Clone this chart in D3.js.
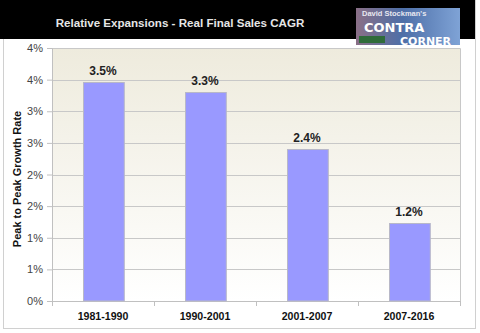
<!DOCTYPE html>
<html>
<head>
<meta charset="utf-8">
<script src="https://cdn.jsdelivr.net/npm/d3@7"></script>
<style>
  body { margin: 0; background: #fff; }
  svg { display: block; font-family: "Liberation Sans", Arial, sans-serif; }
</style>
</head>
<body>
<div id="chart"></div>
<script>
// chart data
const periods = ["1981-1990", "1990-2001", "2001-2007", "2007-2016"];
const cagr = [3.47, 3.31, 2.40, 1.23];
const valueLabels = ["3.5%", "3.3%", "2.4%", "1.2%"];
const yTicks = [0, 0.5, 1, 1.5, 2, 2.5, 3, 3.5, 4];

const width = 480, height = 333;
const margin = {top: 48, left: 52};
const plotW = 408, plotH = 253;

const svg = d3.select("#chart").append("svg")
  .attr("width", width)
  .attr("height", height);

const defs = svg.append("defs");
const bg = defs.append("linearGradient").attr("id", "plotBg")
  .attr("x1", 0).attr("y1", 0).attr("x2", 0).attr("y2", 1);
bg.append("stop").attr("offset", "0%").attr("stop-color", "#eeebdd");
bg.append("stop").attr("offset", "100%").attr("stop-color", "#ffffff");

const logoBg = defs.append("linearGradient").attr("id", "logoBg")
  .attr("x1", 0).attr("y1", 0).attr("x2", 1).attr("y2", 0);
logoBg.append("stop").attr("offset", "0%").attr("stop-color", "#8a6f86");
logoBg.append("stop").attr("offset", "45%").attr("stop-color", "#4d6fa8");
logoBg.append("stop").attr("offset", "100%").attr("stop-color", "#7fa3d6");

// outer frame
svg.append("rect")
  .attr("x", 3.5).attr("y", 0.5)
  .attr("width", 472).attr("height", 328)
  .attr("fill", "#fff").attr("stroke", "#d0d0d0");

// header band
svg.append("rect")
  .attr("x", 0).attr("y", 0)
  .attr("width", 475).attr("height", 39)
  .attr("fill", "#000");

svg.append("text")
  .attr("x", 180).attr("y", 27)
  .attr("text-anchor", "middle")
  .attr("fill", "#e6e6e6")
  .attr("font-size", 11.6)
  .attr("font-weight", "bold")
  .text("Relative Expansions - Real Final Sales CAGR");

const x = d3.scaleBand()
  .domain(periods)
  .range([0, plotW])
  .paddingInner(0.6)
  .paddingOuter(0.3);

const y = d3.scaleLinear()
  .domain([0, 4])
  .range([plotH, 0]);

const g = svg.append("g")
  .attr("transform", `translate(${margin.left},${margin.top})`);

g.append("rect")
  .attr("width", plotW).attr("height", plotH)
  .attr("fill", "url(#plotBg)");

// gridlines
g.append("g")
  .selectAll("line")
  .data(yTicks.slice(1))
  .join("line")
  .attr("x1", 0).attr("x2", plotW)
  .attr("y1", d => Math.round(y(d)) + 0.5)
  .attr("y2", d => Math.round(y(d)) + 0.5)
  .attr("stroke", "#c8c8c8");

// plot border (top/right)
g.append("path")
  .attr("d", `M0,0.5H${plotW + 0.5}V${plotH}`)
  .attr("fill", "none")
  .attr("stroke", "#c8c8c8");

// y axis
const yAxis = g.append("g")
  .call(d3.axisLeft(y).tickValues(yTicks).tickSize(5).tickPadding(4)
    .tickFormat(d => d3.format(".0f")(d) + "%"));
yAxis.select(".domain").attr("stroke", "#c0c0c0");
yAxis.selectAll(".tick line").attr("stroke", "#c0c0c0");
yAxis.selectAll(".tick text")
  .attr("fill", "#444")
  .attr("font-size", 11)
  .attr("font-family", "Liberation Sans, Arial, sans-serif");

// x axis
const xAxis = g.append("g")
  .attr("transform", `translate(0,${plotH})`)
  .call(d3.axisBottom(x).tickSize(0).tickPadding(11));
xAxis.select(".domain").attr("stroke", "#c0c0c0");
xAxis.selectAll(".tick text")
  .attr("fill", "#111")
  .attr("font-size", 10.6)
  .attr("font-weight", "bold")
  .attr("font-family", "Liberation Sans, Arial, sans-serif");
xAxis.append("g")
  .selectAll("line")
  .data(d3.range(0, periods.length + 1))
  .join("line")
  .attr("x1", i => Math.round(i * x.step()) + 0.5)
  .attr("x2", i => Math.round(i * x.step()) + 0.5)
  .attr("y1", 0).attr("y2", 5)
  .attr("stroke", "#c0c0c0");

// bars
g.selectAll(".bar")
  .data(cagr)
  .join("rect")
  .attr("class", "bar")
  .attr("x", (d, i) => Math.round(x(periods[i])) + 0.5)
  .attr("y", d => Math.round(y(d)) + 0.5)
  .attr("width", x.bandwidth())
  .attr("height", d => plotH - Math.round(y(d)) - 0.5)
  .attr("fill", "#9999ff")
  .attr("stroke", "#b8b8c8");

// value labels
g.selectAll(".val")
  .data(cagr)
  .join("text")
  .attr("class", "val")
  .attr("x", (d, i) => x(periods[i]) + x.bandwidth() / 2)
  .attr("y", d => y(d) - 7)
  .attr("text-anchor", "middle")
  .attr("fill", "#222")
  .attr("font-size", 12)
  .attr("font-weight", "bold")
  .text((d, i) => valueLabels[i]);

// y axis title
svg.append("text")
  .attr("transform", `translate(21,${margin.top + 131}) rotate(-90)`)
  .attr("text-anchor", "middle")
  .attr("fill", "#111")
  .attr("font-size", 11)
  .attr("font-weight", "bold")
  .text("Peak to Peak Growth Rate");

// logo badge
const logo = svg.append("g").attr("transform", "translate(356,8)");
logo.append("rect")
  .attr("width", 104).attr("height", 37)
  .attr("fill", "url(#logoBg)");
logo.append("rect")
  .attr("x", 3).attr("y", 28).attr("width", 26).attr("height", 7)
  .attr("fill", "#2f6b3a");
logo.append("text")
  .attr("x", 6).attr("y", 7.5)
  .attr("fill", "#e8e8f0").attr("font-size", 7.5).attr("font-weight", "bold")
  .text("David Stockman's");
logo.append("text")
  .attr("x", 8).attr("y", 23.5)
  .attr("fill", "#fff").attr("font-size", 13).attr("font-weight", "bold")
  .attr("font-family", "DejaVu Sans, sans-serif")
  .text("CONTRA");
logo.append("text")
  .attr("x", 44).attr("y", 37)
  .attr("fill", "#fff").attr("font-size", 11).attr("font-weight", "bold")
  .attr("font-family", "DejaVu Sans, sans-serif")
  .text("CORNER");
</script>
</body>
</html>
